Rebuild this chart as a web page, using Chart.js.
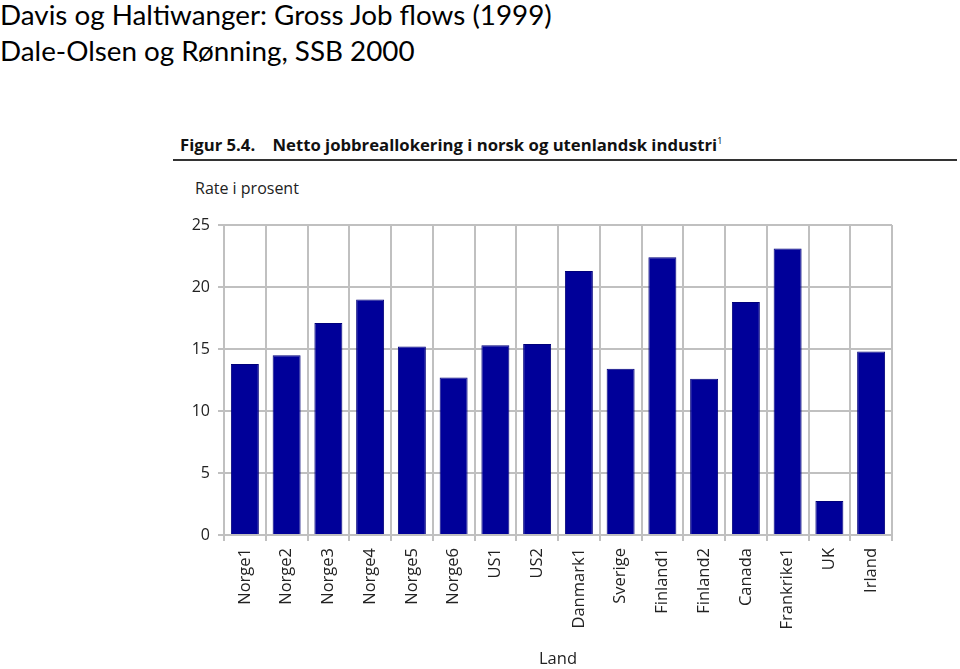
<!DOCTYPE html>
<html>
<head>
<meta charset="utf-8">
<script src="https://cdn.jsdelivr.net/npm/chart.js@4/dist/chart.umd.min.js"></script>
<style>
  html,body{margin:0;padding:0;background:#fff;width:960px;height:669px;overflow:hidden;}
  #t1,#t2{position:absolute;left:0;font-family:Lato,"Noto Sans",sans-serif;font-size:27.8px;color:#000;white-space:nowrap;line-height:1;}
  #t1{top:1px;}
  #t2{top:37px;}
  #fig{position:absolute;left:180px;top:133px;font-family:"Open Sans",sans-serif;font-weight:bold;font-size:16.7px;color:#111;white-space:nowrap;}
  #fig sup{font-size:9px;font-weight:normal;color:#000;}
  #rule{position:absolute;left:173px;top:159px;width:784px;height:2px;background:#333;}
  #rate{position:absolute;left:195px;top:177px;font-family:"Open Sans",sans-serif;font-size:16px;color:#222;white-space:nowrap;}
  #wrap{position:absolute;left:170px;top:200px;width:790px;height:469px;}
</style>
</head>
<body>
<div id="t1">Davis og Haltiwanger: Gross Job flows (1999)</div>
<div id="t2">Dale-Olsen og Rønning, SSB 2000</div>
<div id="fig">Figur 5.4.&nbsp;&nbsp;&nbsp; Netto jobbreallokering i norsk og utenlandsk industri<sup>1</sup></div>
<div id="rule"></div>
<div id="rate">Rate i prosent</div>
<div id="wrap"><canvas id="c" width="790" height="469"></canvas></div>
<script>
const categories = ["Norge1","Norge2","Norge3","Norge4","Norge5","Norge6","US1","US2","Danmark1","Sverige","Finland1","Finland2","Canada","Frankrike1","UK","Irland"];
const rates = [13.8, 14.5, 17.1, 19.0, 15.2, 12.7, 15.3, 15.4, 21.3, 13.4, 22.4, 12.6, 18.8, 23.1, 2.75, 14.8];
const yTicks = [0, 5, 10, 15, 20, 25];
const xTitle = "Land";

const grid = '#c0c0c0';
new Chart(document.getElementById('c'), {
  type: 'bar',
  data: {
    labels: categories,
    datasets: [{
      data: rates,
      backgroundColor: '#000099',
      borderColor: '#00007a',
      borderWidth: 1,
      categoryPercentage: 1.0,
      barPercentage: 0.67
    }]
  },
  options: {
    responsive: false,
    animation: false,
    layout: { padding: { top: 25, right: 68, bottom: 0, left: 0 } },
    plugins: { legend: { display: false }, tooltip: { enabled: false } },
    scales: {
      x: {
        grid: { color: grid, lineWidth: 2, tickLength: 6, offset: true },
        border: { color: grid, width: 2 },
        ticks: { color: '#222', font: { family: 'Open Sans', size: 16.5 }, minRotation: 90, maxRotation: 90, padding: 7, autoSkip: false },
        title: { display: true, text: xTitle, color: '#222', font: { family: 'Open Sans', size: 16.5 }, padding: { top: 0, bottom: 0 } },
        afterFit: s => { s.height = 134; }
      },
      y: {
        min: 0, max: 25,
        afterBuildTicks: s => { s.ticks = yTicks.map(v => ({ value: v })); },
        grid: { color: grid, lineWidth: 2, tickLength: 6 },
        border: { color: grid, width: 2 },
        ticks: { color: '#222', font: { family: 'Open Sans', size: 16 }, padding: 8 },
        afterFit: s => { s.width = 54; }
      }
    }
  }
});
</script>
</body>
</html>
